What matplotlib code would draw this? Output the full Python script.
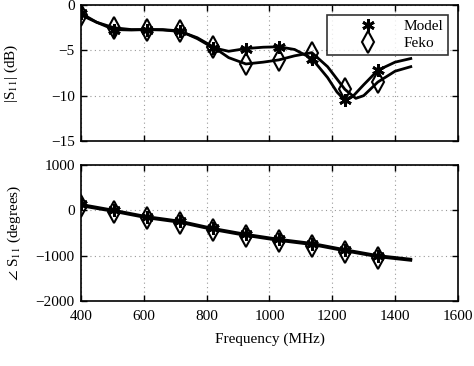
import matplotlib
matplotlib.use("Agg")
import matplotlib.pyplot as plt

plt.rcParams['font.family'] = ['Liberation Serif', 'DejaVu Serif']
plt.rcParams['mathtext.fontset'] = 'stix'

# Marker frequencies (MHz)
freq_markers = [400, 505, 610, 715, 820, 925, 1030, 1135, 1240, 1345]

# |S11| (dB) at markers
mag_model = [-0.9, -2.7, -2.7, -2.85, -4.7, -4.8, -4.6, -5.9, -10.5, -7.2]
mag_feko = [-1.1, -2.5, -2.7, -2.9, -4.6, -6.5, -6.05, -5.25, -9.3, -8.45]

# |S11| curves (dB)
curve_freq_model = [400, 450, 505, 560, 610, 660, 715, 770, 820, 870, 925, 980,
                    1030, 1080, 1135, 1185, 1215, 1240, 1265, 1300, 1345, 1400, 1450]
curve_mag_model = [-0.9, -1.9, -2.7, -2.75, -2.7, -2.7, -2.85, -3.7, -4.7, -5.1, -4.8, -4.65,
                   -4.6, -4.9, -5.9, -8.0, -9.6, -10.5, -10.1, -8.8, -7.2, -6.3, -5.9]
curve_freq_feko = [400, 450, 505, 560, 610, 660, 715, 770, 820, 870, 925, 980,
                   1030, 1080, 1135, 1185, 1240, 1275, 1300, 1345, 1400, 1450]
curve_mag_feko = [-1.1, -1.9, -2.5, -2.7, -2.7, -2.75, -2.9, -3.6, -4.6, -5.8, -6.5, -6.3,
                  -6.05, -5.6, -5.25, -6.8, -9.3, -10.3, -10.0, -8.5, -7.3, -6.8]

# Phase (degrees) at markers
ph_model = [130, 0, -140, -240, -400, -530, -640, -740, -880, -1000]
ph_feko = [90, -40, -180, -280, -440, -570, -680, -780, -920, -1050]

# Phase curves
curve_freq_ph = [400, 505, 610, 715, 820, 925, 1030, 1135, 1240, 1345, 1450]
curve_ph_model = [130, 0, -140, -240, -400, -530, -640, -730, -870, -1000, -1080]
curve_ph_feko = [100, -25, -165, -265, -425, -555, -665, -755, -895, -1025, -1105]

fig = plt.figure(figsize=(4.74, 3.66), dpi=100)
ax1 = fig.add_axes([0.171, 0.615, 0.795, 0.371])
ax2 = fig.add_axes([0.171, 0.178, 0.795, 0.371])

ast = (6, 2, 0)
for ax in (ax1, ax2):
    ax.set_xlim(400, 1600)
    ax.set_xticks([400, 600, 800, 1000, 1200, 1400, 1600])
    ax.grid(True, linestyle=(0, (1, 3)), color='#999999', linewidth=0.8)
    ax.tick_params(direction='in', top=True, right=True, labelsize=11, length=4, width=1)
    ax.tick_params(axis='x', pad=6.5)
    ax.tick_params(axis='y', pad=4.5)
    for s in ax.spines.values():
        s.set_linewidth(1.2)

ax1.plot(curve_freq_model, curve_mag_model, color='black', lw=2)
ax1.plot(curve_freq_feko, curve_mag_feko, color='black', lw=2)
ax1.plot(freq_markers, mag_model, linestyle='none', marker=ast, color='black',
         markersize=9, markeredgewidth=2, label='Model')
ax1.plot(freq_markers, mag_feko, linestyle='none', marker='d', color='black',
         markerfacecolor='none', markersize=11, markeredgewidth=1.5, label='Feko')
ax1.set_ylim(-15, 0)
ax1.set_yticks([-15, -10, -5, 0])
ax1.set_xticklabels([])
ax1.set_ylabel('|S$_{11}$| (dB)', fontsize=11)
ax1.yaxis.set_label_coords(-0.163, 0.5)
leg = ax1.legend(loc='upper right', fontsize=11, frameon=True, fancybox=False,
                 edgecolor='black', borderpad=0.3, handlelength=4.8, handletextpad=-0.1,
                 labelspacing=0.2, borderaxespad=0,
                 bbox_to_anchor=(0.973, 0.926))
leg.get_frame().set_linewidth(1.2)

ax2.plot(curve_freq_ph, curve_ph_model, color='black', lw=2)
ax2.plot(curve_freq_ph, curve_ph_feko, color='black', lw=2)
ax2.plot(freq_markers, ph_model, linestyle='none', marker=ast, color='black',
         markersize=9, markeredgewidth=2)
ax2.plot(freq_markers, ph_feko, linestyle='none', marker='d', color='black',
         markerfacecolor='none', markersize=11, markeredgewidth=1.5)
ax2.set_ylim(-2000, 1000)
ax2.set_yticks([-2000, -1000, 0, 1000])
ax2.set_ylabel(r'$\angle$ S$_{11}$ (degrees)', fontsize=11)
ax2.yaxis.set_label_coords(-0.155, 0.5)
ax2.set_xlabel('Frequency (MHz)', fontsize=11, labelpad=7)

fig.savefig('out.png', dpi=100)
